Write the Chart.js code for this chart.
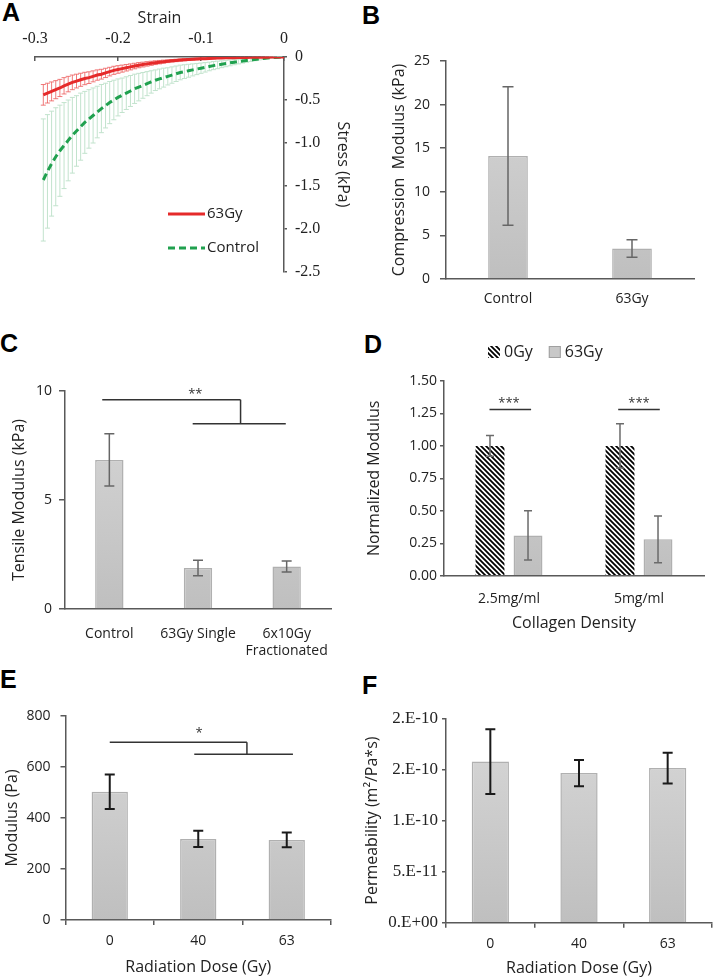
<!DOCTYPE html>
<html>
<head>
<meta charset="utf-8">
<script src="https://cdn.jsdelivr.net/npm/chart.js@4/dist/chart.umd.min.js"></script>
<style>
  body { margin: 0; width: 714px; height: 978px; background: #fff; position: relative; overflow: hidden; }
  canvas { position: absolute; }
  .lbl { position: absolute; font: bold 25px 'Liberation Sans', Arial, sans-serif; line-height: 25px; color: #000; }
</style>
</head>
<body>
<div class="lbl" style="left:2px;top:0px">A</div>
<div class="lbl" style="left:362px;top:3px">B</div>
<div class="lbl" style="left:0px;top:331px">C</div>
<div class="lbl" style="left:364px;top:332px">D</div>
<div class="lbl" style="left:0px;top:667px">E</div>
<div class="lbl" style="left:362px;top:673px">F</div>

<canvas id="chartA" width="357" height="300" style="left:0;top:0"></canvas>
<canvas id="chartB" width="354" height="310" style="left:360px;top:0"></canvas>
<canvas id="chartC" width="357" height="350" style="left:0;top:310px"></canvas>
<canvas id="chartD" width="354" height="330" style="left:360px;top:310px"></canvas>
<canvas id="chartE" width="357" height="338" style="left:0;top:640px"></canvas>
<canvas id="chartF" width="354" height="338" style="left:360px;top:640px"></canvas>

<script>
// ---- A: stress-strain curves
const strain = [-0.29,-0.285,-0.28,-0.275,-0.27,-0.265,-0.26,-0.255,-0.25,-0.245,
  -0.24,-0.235,-0.23,-0.225,-0.22,-0.215,-0.21,-0.205,-0.2,-0.195,
  -0.19,-0.185,-0.18,-0.175,-0.17,-0.165,-0.16,-0.155,-0.15,-0.145,
  -0.14,-0.135,-0.13,-0.125,-0.12,-0.115,-0.11,-0.105,-0.1,-0.095,
  -0.09,-0.085,-0.08,-0.075,-0.07,-0.065,-0.06,-0.055,-0.05,-0.045,
  -0.04,-0.035,-0.03,-0.025,-0.02,-0.015,-0.01,-0.005,0]
const stressControl = [-1.43,-1.33,-1.24,-1.16,-1.09,-1.03,-0.97,-0.91,-0.86,-0.81,
  -0.76,-0.72,-0.68,-0.64,-0.60,-0.565,-0.53,-0.50,-0.47,-0.445,
  -0.42,-0.395,-0.37,-0.35,-0.33,-0.31,-0.29,-0.27,-0.255,-0.24,
  -0.225,-0.21,-0.195,-0.18,-0.17,-0.16,-0.15,-0.14,-0.13,-0.12,
  -0.11,-0.10,-0.092,-0.084,-0.076,-0.068,-0.06,-0.053,-0.046,-0.04,
  -0.034,-0.028,-0.022,-0.017,-0.012,-0.008,-0.005,-0.002,0]
const sdControl = [0.71,0.66,0.61,0.57,0.53,0.50,0.47,0.44,0.41,0.39,
  0.36,0.34,0.32,0.30,0.28,0.26,0.245,0.23,0.215,0.20,
  0.19,0.18,0.17,0.16,0.15,0.14,0.13,0.12,0.115,0.11,
  0.10,0.095,0.09,0.085,0.08,0.075,0.07,0.065,0.06,0.055,
  0.05,0.047,0.044,0.04,0.037,0.034,0.03,0.027,0.024,0.021,
  0.018,0.015,0.012,0.01,0.008,0.006,0.004,0.002,0]
const stress63Gy = [-0.44,-0.42,-0.40,-0.38,-0.36,-0.335,-0.315,-0.295,-0.28,-0.265,
  -0.25,-0.24,-0.225,-0.21,-0.20,-0.185,-0.17,-0.155,-0.145,-0.135,
  -0.125,-0.115,-0.105,-0.095,-0.088,-0.08,-0.073,-0.066,-0.06,-0.054,
  -0.049,-0.044,-0.04,-0.036,-0.032,-0.029,-0.026,-0.023,-0.021,-0.019,
  -0.017,-0.015,-0.013,-0.012,-0.01,-0.009,-0.008,-0.007,-0.006,-0.005,
  -0.004,-0.003,-0.0025,-0.002,-0.0015,-0.001,-0.0006,-0.0003,0]
const sd63Gy = [0.12,0.115,0.11,0.105,0.10,0.095,0.09,0.085,0.08,0.076,
  0.072,0.068,0.064,0.06,0.057,0.054,0.05,0.047,0.044,0.041,
  0.038,0.035,0.032,0.03,0.028,0.026,0.024,0.022,0.02,0.018,
  0.016,0.015,0.014,0.013,0.012,0.011,0.01,0.009,0.008,0.007,
  0.006,0.006,0.005,0.005,0.004,0.004,0.003,0.003,0.003,0.002,
  0.002,0.002,0.001,0.001,0.001,0.001,0,0,0]

// ---- B: compression modulus
const compLabels = ['Control', '63Gy']
const compModulus = [14.1, 3.5]
const compErr = [7.95, 1.0]

// ---- C: tensile modulus
const tensLabels = ['Control', '63Gy Single', ['6x10Gy', 'Fractionated']]
const tensModulus = [6.84, 1.88, 1.95]
const tensErr = [1.2, 0.36, 0.25]
const tensBrackets = [[-0.08, 9.6, 1.48, 9.6], [1.48, 9.6, 1.48, 8.5], [0.94, 8.5, 1.99, 8.5]]
const tensStars = [[0.97, 9.85, '**']]

// ---- D: normalized modulus by collagen density
const densLabels = ['2.5mg/ml', '5mg/ml']
const norm0Gy = [1.0, 1.0]
const norm0GyErr = [0.08, 0.17]
const norm63Gy = [0.31, 0.28]
const norm63GyErr = [0.19, 0.18]
const densBrackets = [[-0.15, 1.28, 0.17, 1.28], [0.84, 1.28, 1.16, 1.28]]
const densStars = [[0.0, 1.33, '***'], [1.0, 1.33, '***']]

// ---- E: modulus vs dose
const doseLabels = ['0', '40', '63']
const modulusPa = [503, 318, 314]
const modulusPaErr = [68, 32, 29]
const doseBrackets = [[0.0, 697, 1.55, 697], [1.55, 697, 1.55, 650], [0.955, 650, 2.07, 650]]
const doseStars = [[1.01, 733, '*']]

// ---- F: permeability vs dose
const permeability = [1.578e-10, 1.465e-10, 1.514e-10]
const permeabilityErr = [0.317e-10, 0.128e-10, 0.15e-10]

const axisColor = '#595959'
const textColor = '#222'
const sans = "'Open Sans', 'Noto Sans', sans-serif"
const serif = "'Liberation Serif', 'DejaVu Serif', serif"

function drawErrors(chart, opts) {
  const ctx = chart.ctx
  const y = chart.scales.y
  const sets = chart.data.datasets
  for (let i = sets.length - 1; i >= 0; i--) {
    const ds = sets[i]
    if (!ds.errors) continue
    const meta = chart.getDatasetMeta(i)
    ctx.save()
    ctx.strokeStyle = ds.errorColor || opts.color
    ctx.lineWidth = opts.width
    meta.data.forEach((el, j) => {
      const d = ds.data[j]
      const v = typeof d === 'object' ? d.y : d
      const e = ds.errors[j]
      if (!e) return
      const top = y.getPixelForValue(v + e)
      const bot = y.getPixelForValue(v - e)
      const h = opts.cap / 2
      ctx.beginPath()
      ctx.moveTo(el.x, top); ctx.lineTo(el.x, bot)
      ctx.moveTo(el.x - h, top); ctx.lineTo(el.x + h, top)
      ctx.moveTo(el.x - h, bot); ctx.lineTo(el.x + h, bot)
      ctx.stroke()
    })
    ctx.restore()
  }
}

const errorBars = {
  id: 'errorBars',
  beforeDatasetsDraw(chart, args, opts) { if (opts.behind) drawErrors(chart, opts) },
  afterDatasetsDraw(chart, args, opts) { if (!opts.behind) drawErrors(chart, opts) }
}

const brackets = {
  id: 'brackets',
  afterDatasetsDraw(chart, args, opts) {
    const { ctx, scales: { x, y } } = chart
    ctx.save()
    ctx.strokeStyle = opts.color
    ctx.lineWidth = opts.width
    ;(opts.lines || []).forEach(([x1, y1, x2, y2]) => {
      ctx.beginPath()
      ctx.moveTo(x.getPixelForValue(x1), y.getPixelForValue(y1))
      ctx.lineTo(x.getPixelForValue(x2), y.getPixelForValue(y2))
      ctx.stroke()
    })
    ctx.fillStyle = opts.color
    ctx.font = opts.font
    ctx.textAlign = 'center'
    ctx.textBaseline = 'middle'
    ;(opts.stars || []).forEach(([sx, sy, t]) => ctx.fillText(t, x.getPixelForValue(sx), y.getPixelForValue(sy)))
    ctx.restore()
  }
}

// legend drawn inside panel A
const lineLegend = {
  id: 'lineLegend',
  afterDraw(chart, args, opts) {
    if (!opts.display) return
    const { ctx, chartArea } = chart
    chart.data.datasets.forEach((ds, i) => {
      const x = chartArea.left + opts.left
      const y = chartArea.top + opts.top + i * opts.gap
      ctx.save()
      ctx.strokeStyle = ds.borderColor
      ctx.lineWidth = ds.borderWidth
      ctx.setLineDash(ds.borderDash || [])
      ctx.beginPath(); ctx.moveTo(x, y); ctx.lineTo(x + opts.len, y); ctx.stroke()
      ctx.setLineDash([])
      ctx.fillStyle = textColor
      ctx.font = opts.font
      ctx.textBaseline = 'middle'
      ctx.fillText(ds.label, x + opts.len + 2, y)
      ctx.restore()
    })
  }
}

// swatch legend for panel D
const boxLegend = {
  id: 'boxLegend',
  afterDraw(chart, args, opts) {
    if (!opts.display) return
    const ctx = chart.ctx
    let x = opts.x
    ctx.save()
    ctx.font = opts.font
    ctx.textBaseline = 'middle'
    chart.data.datasets.forEach(ds => {
      ctx.fillStyle = ds.legendFill
      ctx.fillRect(x, opts.y - opts.size / 2, opts.size, opts.size)
      if (ds.legendBorder) {
        ctx.strokeStyle = ds.legendBorder
        ctx.lineWidth = 1
        ctx.strokeRect(x + 0.5, opts.y - opts.size / 2 + 0.5, opts.size - 1, opts.size - 1)
      }
      ctx.fillStyle = textColor
      ctx.fillText(ds.label, x + opts.size + 4, opts.y)
      x += opts.size + 4 + ctx.measureText(ds.label).width + opts.gap
    })
    ctx.restore()
  }
}

function barFill(context) {
  const { chart } = context
  const area = chart.chartArea
  if (!area) return '#c8c8c8'
  const g = chart.ctx.createLinearGradient(0, area.top, 0, area.bottom)
  g.addColorStop(0, '#d8d8d8')
  g.addColorStop(1, '#bfbfbf')
  return g
}

function hatch() {
  const p = 5
  const c = document.createElement('canvas')
  c.width = p; c.height = p
  const g = c.getContext('2d')
  g.fillStyle = '#fff'
  g.fillRect(0, 0, p, p)
  g.strokeStyle = '#000'
  g.lineWidth = 1.8
  g.beginPath()
  for (let k = -1; k <= 1; k++) {
    g.moveTo(k * p - 1, -1)
    g.lineTo(k * p + p + 1, p + 1)
  }
  g.stroke()
  return g.createPattern(c, 'repeat')
}

function excelSci(v) {
  const s = (v * 1.000001).toExponential(0)
  const [m, e] = s.split('e')
  const n = parseInt(e, 10)
  return m + '.E' + (n < 0 ? '-' : '+') + String(Math.abs(n)).padStart(2, '0')
}

function yScale(o) {
  return {
    min: o.min, max: o.max,
    ticks: { stepSize: o.step, color: textColor, font: o.tickFont || { family: sans, size: 14 }, padding: o.pad, callback: o.fmt },
    grid: { drawOnChartArea: false, drawTicks: true, tickLength: o.tl || 5, color: axisColor, lineWidth: 1.5 },
    border: { color: axisColor, width: 1.5 },
    title: { display: true, text: o.title, color: textColor, font: { family: sans, size: 16 }, padding: { top: o.titlePad, bottom: 0 } },
    afterFit: s => { s.width = o.width }
  }
}

function xScale(o) {
  return {
    ticks: { color: textColor, font: { family: sans, size: o.size || 14 }, padding: o.pad, maxRotation: 0, autoSkip: false },
    grid: o.ticks ? { drawOnChartArea: false, offset: true, tickLength: 5, color: axisColor, lineWidth: 1.5 } : { display: false },
    border: { color: axisColor, width: 1.5 },
    title: o.title ? { display: true, text: o.title, color: textColor, font: { family: sans, size: 16 }, padding: { top: 0, bottom: o.titlePad } } : { display: false },
    afterFit: s => { s.height = o.height }
  }
}

const base = { responsive: false, animation: false, events: [] }

// A
new Chart(document.getElementById('chartA'), {
  type: 'line',
  data: {
    datasets: [
      { label: '63Gy', data: strain.map((x, i) => ({ x, y: stress63Gy[i] })), errors: sd63Gy, errorColor: 'rgba(236,90,90,0.8)',
        borderColor: '#e52a2a', borderWidth: 3, pointRadius: 0, tension: 0 },
      { label: 'Control', data: strain.map((x, i) => ({ x, y: stressControl[i] })), errors: sdControl, errorColor: '#c2e3cd',
        borderColor: '#20a14f', borderWidth: 3, borderDash: [7, 4], pointRadius: 0, tension: 0 }
    ]
  },
  options: {
    ...base,
    layout: { padding: { left: 35, right: 0, top: 0, bottom: 28 } },
    plugins: {
      legend: { display: false }, tooltip: { enabled: false },
      errorBars: { behind: true, width: 1, cap: 5 },
      lineLegend: { display: true, left: 133, top: 157, gap: 34, len: 37, font: '15px ' + sans }
    },
    scales: {
      x: {
        type: 'linear', position: 'top', min: -0.3, max: 0,
        ticks: { stepSize: 0.1, color: '#222', font: { family: serif, size: 16 }, padding: 13 },
        grid: { drawOnChartArea: false, tickLength: -4, color: axisColor, lineWidth: 1.5 },
        border: { color: axisColor, width: 1.5 },
        title: { display: true, text: 'Strain', color: '#222', font: { family: sans, size: 16 }, padding: { top: 9, bottom: 0 } },
        afterFit: s => { s.height = 57 }
      },
      y: {
        position: 'right', min: -2.5, max: 0,
        ticks: { stepSize: 0.5, color: '#222', font: { family: serif, size: 16 }, padding: 8 },
        grid: { drawOnChartArea: false, tickLength: 3, color: axisColor, lineWidth: 1.5 },
        border: { color: axisColor, width: 1.5 },
        title: { display: true, text: 'Stress (kPa)', color: '#222', font: { family: sans, size: 16 }, padding: { top: 5, bottom: 0 } },
        afterFit: s => { s.width = 73 }
      }
    }
  },
  plugins: [errorBars, lineLegend]
})

// B
new Chart(document.getElementById('chartB'), {
  type: 'bar',
  data: {
    labels: compLabels,
    datasets: [{ data: compModulus, errors: compErr, backgroundColor: barFill, borderColor: '#b0b0b0', borderWidth: 1.5,
      barPercentage: 0.32, categoryPercentage: 1 }]
  },
  options: {
    ...base,
    layout: { padding: { left: 0, right: 20, top: 61, bottom: 0 } },
    plugins: { legend: { display: false }, tooltip: { enabled: false }, errorBars: { color: '#666', width: 1.5, cap: 11 } },
    scales: {
      x: xScale({ height: 31, pad: 4, size: 14 }),
      y: yScale({ min: 0, max: 25, step: 5, pad: 10, width: 86, title: 'Compression  Modulus (kPa)', titlePad: 30, tl: 6 })
    }
  },
  plugins: [errorBars]
})

// C
new Chart(document.getElementById('chartC'), {
  type: 'bar',
  data: {
    labels: tensLabels,
    datasets: [{ data: tensModulus, errors: tensErr, backgroundColor: barFill, borderColor: '#b0b0b0', borderWidth: 1.5,
      barPercentage: 0.32, categoryPercentage: 1 }]
  },
  options: {
    ...base,
    layout: { padding: { left: 0, right: 26, top: 81, bottom: 0 } },
    plugins: {
      legend: { display: false }, tooltip: { enabled: false },
      errorBars: { color: '#666', width: 1.5, cap: 10 },
      brackets: { lines: tensBrackets, stars: tensStars, color: '#333', width: 1.5, font: '13px ' + sans }
    },
    scales: {
      x: xScale({ height: 51, pad: 9 }),
      y: yScale({ min: 0, max: 10, step: 5, pad: 7, width: 65, title: 'Tensile Modulus (kPa)', titlePad: 10, tl: 6 })
    }
  },
  plugins: [errorBars, brackets]
})

// D
new Chart(document.getElementById('chartD'), {
  type: 'bar',
  data: {
    labels: densLabels,
    datasets: [
      { label: '0Gy', data: norm0Gy, errors: norm0GyErr, backgroundColor: hatch(), legendFill: hatch(), borderWidth: 0,
        barPercentage: 0.76, categoryPercentage: 0.585 },
      { label: '63Gy', data: norm63Gy, errors: norm63GyErr, backgroundColor: barFill, legendFill: '#c8c8c8', legendBorder: '#a0a0a0',
        borderColor: '#b0b0b0', borderWidth: 1.5, barPercentage: 0.76, categoryPercentage: 0.585 }
    ]
  },
  options: {
    ...base,
    layout: { padding: { left: 0, right: 10, top: 71, bottom: 0 } },
    plugins: {
      legend: { display: false }, tooltip: { enabled: false },
      errorBars: { color: '#6b6b6b', width: 1.5, cap: 8 },
      brackets: { lines: densBrackets, stars: densStars, color: '#333', width: 1.5, font: '13px ' + sans },
      boxLegend: { display: true, x: 128, y: 42, size: 12, gap: 16, font: '16px ' + sans }
    },
    scales: {
      x: xScale({ height: 64.3, pad: 7, title: 'Collagen Density', titlePad: 7 }),
      y: yScale({ min: 0, max: 1.5, step: 0.25, pad: 3, width: 84, title: 'Normalized Modulus', titlePad: 5, tl: 4, fmt: v => v.toFixed(2) })
    }
  },
  plugins: [errorBars, brackets, boxLegend]
})

// E
new Chart(document.getElementById('chartE'), {
  type: 'bar',
  data: {
    labels: doseLabels,
    datasets: [{ data: modulusPa, errors: modulusPaErr, backgroundColor: barFill, borderColor: '#b0b0b0', borderWidth: 1.5,
      barPercentage: 0.41, categoryPercentage: 1 }]
  },
  options: {
    ...base,
    layout: { padding: { left: 0, right: 26, top: 76, bottom: 0 } },
    plugins: {
      legend: { display: false }, tooltip: { enabled: false },
      errorBars: { color: '#1a1a1a', width: 2, cap: 10 },
      brackets: { lines: doseBrackets, stars: doseStars, color: '#333', width: 1.5, font: '13px ' + sans }
    },
    scales: {
      x: xScale({ height: 58, pad: 8, ticks: true, title: 'Radiation Dose (Gy)', titlePad: 1 }),
      y: yScale({ min: 0, max: 800, step: 200, pad: 10, width: 65.5, title: 'Modulus (Pa)', titlePad: 3 })
    }
  },
  plugins: [errorBars, brackets]
})

// F
new Chart(document.getElementById('chartF'), {
  type: 'bar',
  data: {
    labels: doseLabels,
    datasets: [{ data: permeability, errors: permeabilityErr, backgroundColor: barFill, borderColor: '#b0b0b0', borderWidth: 1.5,
      barPercentage: 0.42, categoryPercentage: 1 }]
  },
  options: {
    ...base,
    layout: { padding: { left: 0, right: 2, top: 78.5, bottom: 0 } },
    plugins: { legend: { display: false }, tooltip: { enabled: false }, errorBars: { color: '#1a1a1a', width: 2, cap: 10 } },
    scales: {
      x: xScale({ height: 55.3, pad: 8, ticks: true, title: 'Radiation Dose (Gy)', titlePad: 0 }),
      y: yScale({ min: 0, max: 2e-10, step: 5e-11, pad: 4, width: 86, title: 'Permeability (m\u00b2/Pa*s)', titlePad: 3, tl: 4,
        tickFont: { family: serif, size: 17 }, fmt: excelSci })
    }
  },
  plugins: [errorBars]
})
</script>
</body>
</html>
